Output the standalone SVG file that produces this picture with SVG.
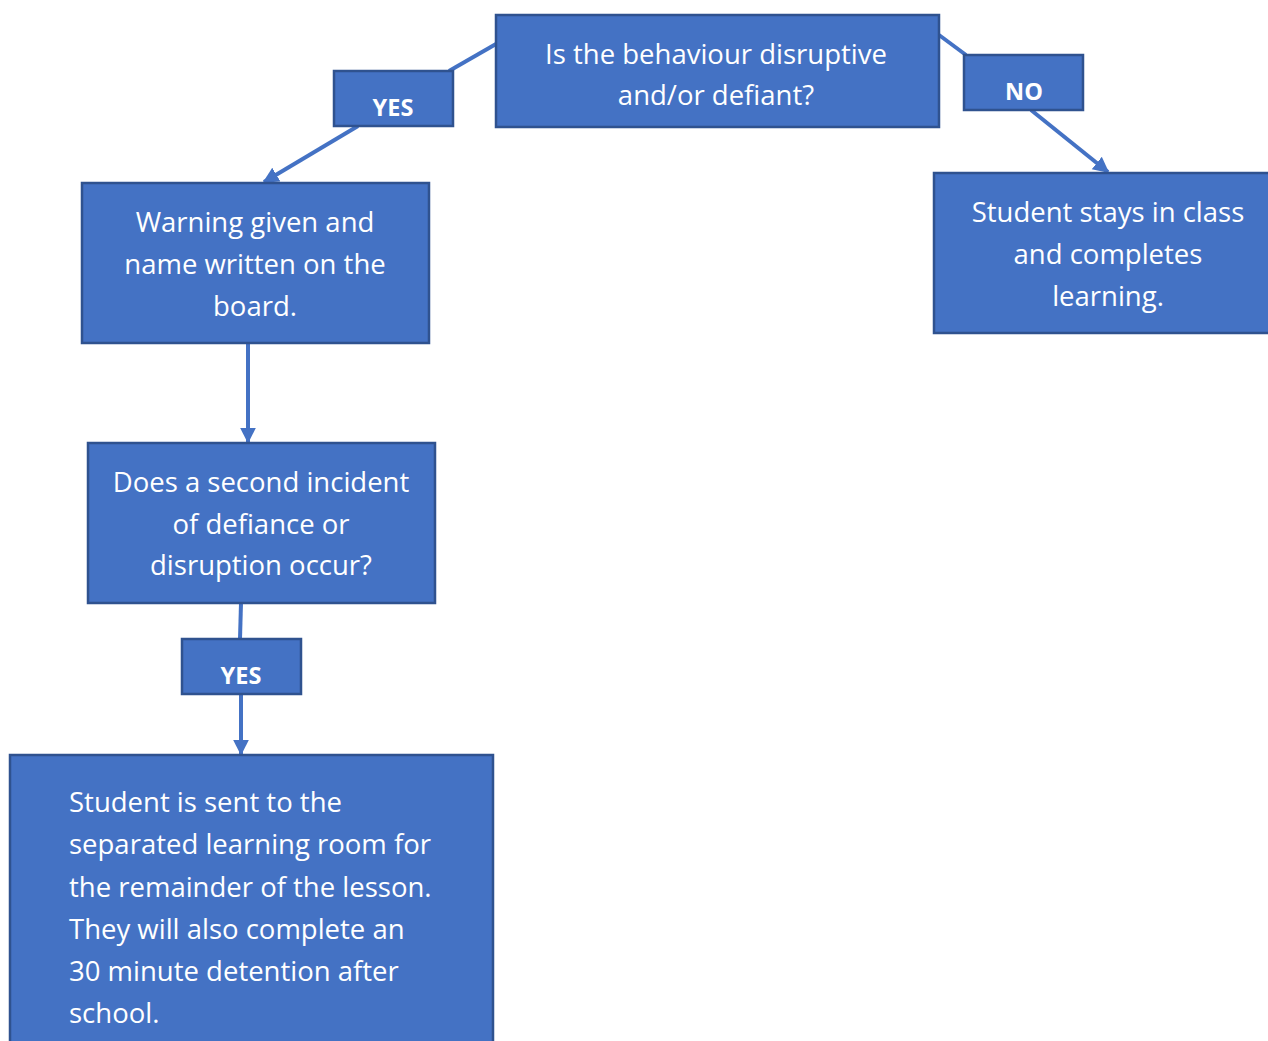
<svg xmlns="http://www.w3.org/2000/svg" width="1268" height="1041" viewBox="0 0 1268 1041">
<defs>
<style>
.box{fill:#4472C4;stroke:#2F528F;stroke-width:2.5}
.t{font-family:"Open Sans","Noto Sans",sans-serif;font-size:27.5px;fill:#fff}
.c{text-anchor:middle}
.lbl{font-family:"Open Sans","Noto Sans",sans-serif;font-size:23.5px;font-weight:bold;fill:#fff;text-anchor:middle}
.ln{stroke:#4472C4;stroke-width:4;fill:none}
</style>
<marker id="ah" viewBox="0 0 10 10" refX="9" refY="5" markerWidth="4" markerHeight="4.5" orient="auto" markerUnits="strokeWidth">
<path d="M0,0 L10,5 L0,10 z" fill="#4472C4"/>
</marker>
</defs>
<rect width="1268" height="1041" fill="#fff"/>
<g id="connectors">
<line class="ln" x1="496" y1="44" x2="449" y2="71"/>
<line class="ln" x1="358" y1="126" x2="264" y2="182" marker-end="url(#ah)"/>
<line class="ln" x1="939" y1="35" x2="966" y2="55"/>
<line class="ln" x1="1031" y1="110" x2="1108" y2="172" marker-end="url(#ah)"/>
<line class="ln" x1="248" y1="343" x2="248" y2="442" marker-end="url(#ah)"/>
<line class="ln" x1="241" y1="603" x2="240" y2="639"/>
<line class="ln" x1="241" y1="694" x2="241" y2="754" marker-end="url(#ah)"/>
</g>
<g id="n-question">
<rect class="box" x="496" y="15" width="443" height="112"/>
<text class="t c" x="716" y="64">Is the behaviour disruptive</text>
<text class="t c" x="716" y="105">and/or defiant?</text>
</g>
<g id="n-yes1">
<rect class="box" x="334" y="71" width="119" height="55"/>
<text class="lbl" x="393" y="116">YES</text>
</g>
<g id="n-no">
<rect class="box" x="964" y="55" width="119" height="55"/>
<text class="lbl" x="1024" y="100">NO</text>
</g>
<g id="n-warning">
<rect class="box" x="82" y="183" width="347" height="160"/>
<text class="t c" x="255" y="232">Warning given and</text>
<text class="t c" x="255" y="274">name written on the</text>
<text class="t c" x="255" y="316">board.</text>
</g>
<g id="n-stays">
<rect class="box" x="934" y="173" width="340" height="160"/>
<text class="t c" x="1108" y="222">Student stays in class</text>
<text class="t c" x="1108" y="264">and completes</text>
<text class="t c" x="1108" y="306">learning.</text>
</g>
<g id="n-second">
<rect class="box" x="88" y="443" width="347" height="160"/>
<text class="t c" x="261" y="492">Does a second incident</text>
<text class="t c" x="261" y="534">of defiance or</text>
<text class="t c" x="261" y="575">disruption occur?</text>
</g>
<g id="n-yes2">
<rect class="box" x="182" y="639" width="119" height="55"/>
<text class="lbl" x="241" y="684">YES</text>
</g>
<g id="n-final">
<rect class="box" x="10" y="755" width="483" height="300"/>
<text class="t" x="69" y="812">Student is sent to the</text>
<text class="t" x="69" y="854">separated learning room for</text>
<text class="t" x="69" y="897">the remainder of the lesson.</text>
<text class="t" x="69" y="939">They will also complete an</text>
<text class="t" x="69" y="981">30 minute detention after</text>
<text class="t" x="69" y="1023">school.</text>
</g>
</svg>
